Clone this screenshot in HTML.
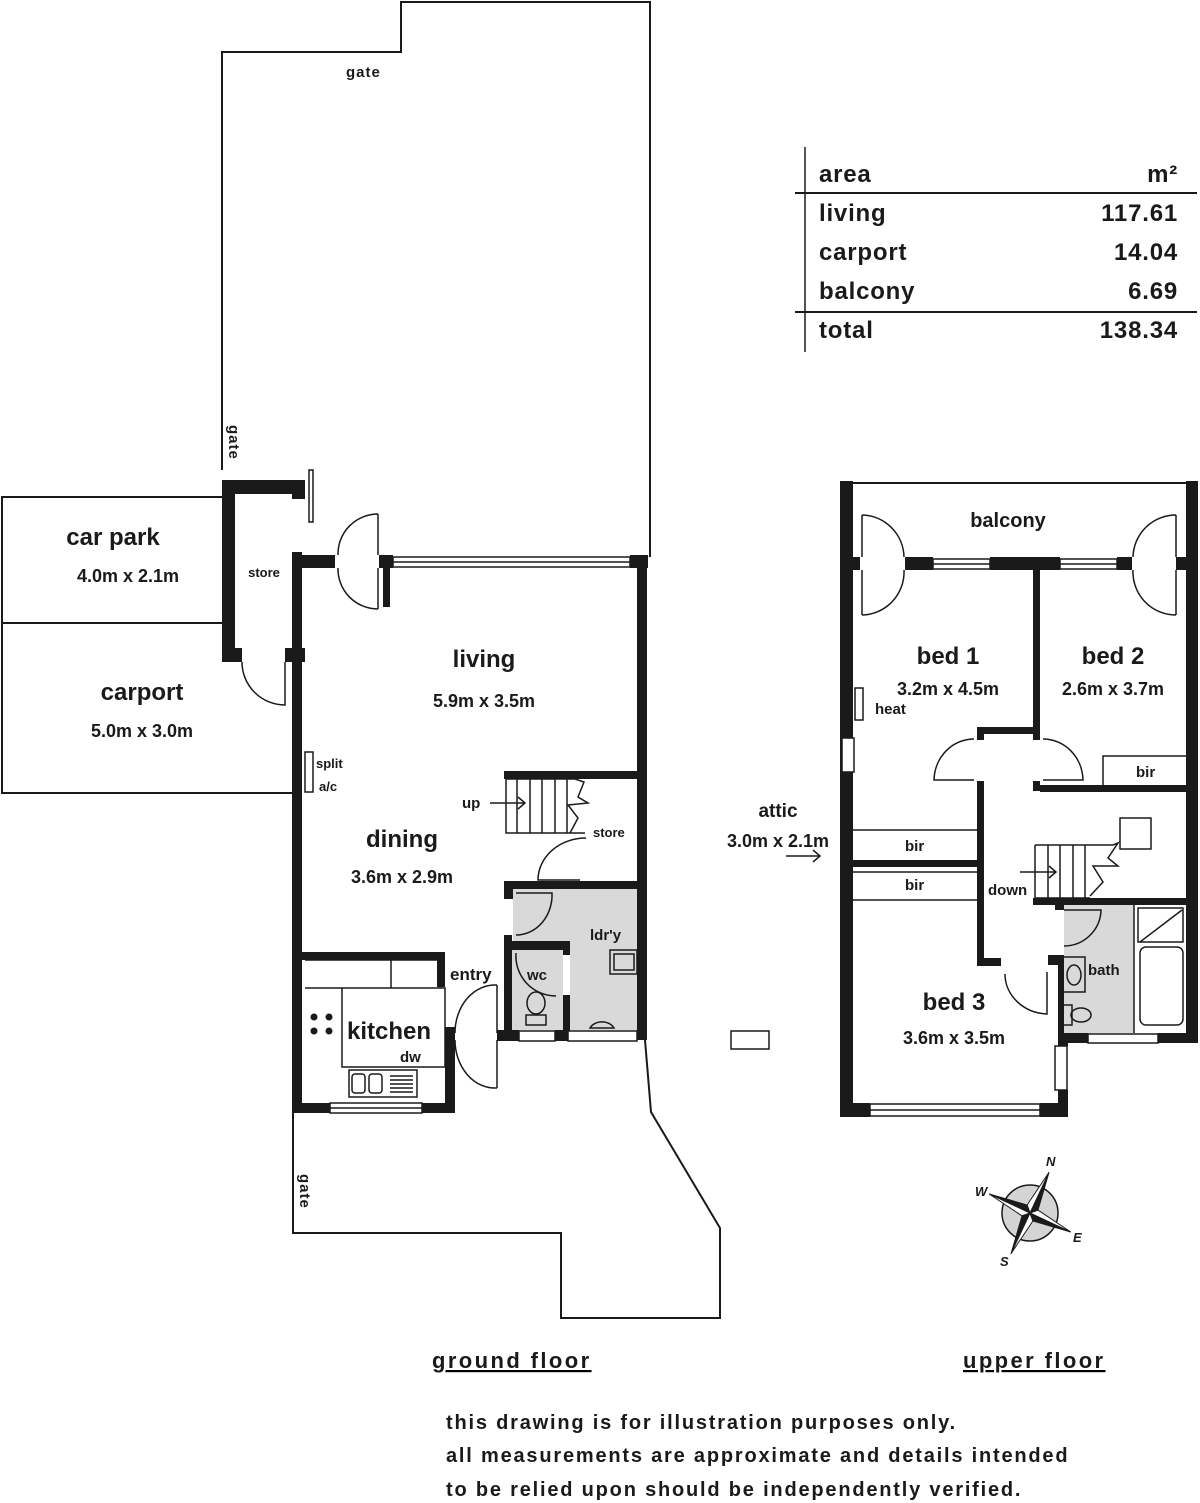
<!DOCTYPE html>
<html><head><meta charset="utf-8"><style>
body{margin:0;background:#fff}
svg{display:block}
text{font-family:"Liberation Sans",sans-serif;fill:#1a1a1a;font-weight:bold}
</style></head><body>
<svg width="1200" height="1503" viewBox="0 0 1200 1503" xmlns="http://www.w3.org/2000/svg">
<g fill="none" stroke="#1a1a1a" stroke-width="2">
<polyline points="222,470 222,52 401,52 401,2 650,2 650,557"/>
<polyline points="222,497 2,497 2,793 293,793"/>
<line x1="2" y1="623" x2="222" y2="623"/>
<polyline points="293,1112 293,1233 561,1233 561,1318 720,1318 720,1228 651,1112 645,1040"/>
<line x1="852" y1="483" x2="1188" y2="483"/>
</g>
<g fill="#1a1a1a">
<rect x="222" y="480" width="13" height="182"/>
<rect x="222" y="480" width="83" height="14"/>
<rect x="292" y="480" width="13" height="19"/>
<rect x="222" y="648" width="20" height="14"/>
<rect x="285" y="648" width="20" height="14"/>
<rect x="292" y="552" width="10" height="560"/>
<rect x="292" y="555" width="43" height="13"/>
<rect x="379" y="555" width="14" height="13"/>
<rect x="383" y="555" width="7" height="52"/>
<rect x="630" y="555" width="18" height="13"/>
<rect x="637" y="555" width="10" height="485"/>
<rect x="504" y="771" width="140" height="8"/>
<rect x="504" y="881" width="140" height="8"/>
<rect x="504" y="881" width="9" height="18"/>
<rect x="504" y="935" width="8" height="105"/>
<rect x="504" y="941" width="65" height="9"/>
<rect x="563" y="941" width="7" height="14"/>
<rect x="563" y="995" width="7" height="45"/>
<rect x="497" y="1030" width="22" height="11"/>
<rect x="555" y="1030" width="13" height="11"/>
<rect x="302" y="952" width="143" height="8"/>
<rect x="437" y="952" width="8" height="35"/>
<rect x="445" y="1027" width="10" height="85"/>
<rect x="292" y="1103" width="38" height="10"/>
<rect x="422" y="1103" width="33" height="10"/>
<rect x="840" y="481" width="13" height="636"/>
<rect x="1186" y="481" width="12" height="562"/>
<rect x="853" y="557" width="7" height="13"/>
<rect x="905" y="557" width="28" height="13"/>
<rect x="990" y="557" width="70" height="13"/>
<rect x="1117" y="557" width="15" height="13"/>
<rect x="1176" y="557" width="10" height="13"/>
<rect x="1033" y="570" width="7" height="170"/>
<rect x="977" y="727" width="63" height="7"/>
<rect x="977" y="727" width="7" height="13"/>
<rect x="977" y="781" width="7" height="183"/>
<rect x="977" y="958" width="24" height="8"/>
<rect x="1033" y="781" width="7" height="10"/>
<rect x="1040" y="785" width="146" height="7"/>
<rect x="1033" y="898" width="165" height="7"/>
<rect x="1055" y="898" width="9" height="12"/>
<rect x="1058" y="955" width="7" height="88"/>
<rect x="1048" y="955" width="10" height="10"/>
<rect x="1058" y="1033" width="30" height="10"/>
<rect x="1158" y="1033" width="40" height="10"/>
<rect x="1058" y="1040" width="10" height="6"/>
<rect x="1058" y="1090" width="10" height="27"/>
<rect x="840" y="1103" width="30" height="14"/>
<rect x="1040" y="1103" width="28" height="14"/>
<rect x="853" y="860" width="124" height="7"/>
</g>
<g fill="#d9d9d9">
<rect x="513" y="889" width="124" height="52"/>
<rect x="570" y="941" width="67" height="89"/>
<rect x="512" y="950" width="51" height="80"/>
<rect x="1064" y="905" width="70" height="128"/>
</g>
<g fill="none" stroke="#1a1a1a" stroke-width="1.5">
<rect x="393" y="557" width="237" height="10" fill="#fff"/><line x1="393" y1="562" x2="630" y2="562"/>
<rect x="330" y="1103" width="92" height="10" fill="#fff"/><line x1="330" y1="1108" x2="422" y2="1108"/>
<rect x="519" y="1031" width="36" height="10" fill="#fff"/>
<rect x="568" y="1031" width="69" height="10" fill="#fff"/>
<rect x="309" y="470" width="4" height="52"/>
<path d="M378,514 A40,40 0 0 0 338,555 M338,568 A40,40 0 0 0 378,609 M378,514 V555 M378,568 V609"/>
<path d="M242,662 A43,43 0 0 0 285,705 V662"/>
<path d="M497,985 A40,48 0 0 0 455,1033 M455,1040 A40,48 0 0 0 497,1088 M497,985 V1033 M497,1040 V1088"/>
<path d="M586,838 A48,42 0 0 0 538,880 H580"/>
<path d="M516,935 A36,40 0 0 0 552,893 H516"/>
<path d="M516,953 A40,40 0 0 0 556,996"/>
<rect x="305" y="752" width="8" height="40"/>
<path d="M506,779 V833 H585 M506,779 H575"/>
<path d="M517,779V833M530,779V833M542,779V833M555,779V833M567,779V833"/>
<path d="M575,779 L584,782 L578,797 L588,803 L568,805 L578,818 L570,833"/>
<path d="M490,803 H525 M518,797 L525,803 L518,809"/>
<path d="M305,960 H440 V988 H305 M391,960 V988 M342,988 H445 V1067 H342 Z"/>
<rect x="349" y="1070" width="68" height="27"/>
<rect x="352" y="1074" width="13" height="19" rx="3"/><rect x="369" y="1074" width="13" height="19" rx="3"/>
<path d="M390,1076H413M390,1080H413M390,1084H413M390,1088H413M390,1092H413"/>
<ellipse cx="536" cy="1003" rx="9" ry="11"/><rect x="526" y="1015" width="20" height="10"/>
<path d="M590,1028 A13,10 0 0 1 614,1028 Z"/>
<rect x="610" y="950" width="27" height="24"/><rect x="614" y="954" width="20" height="16"/>
<rect x="933" y="559" width="57" height="10" fill="#fff"/><line x1="933" y1="564" x2="990" y2="564"/>
<rect x="1060" y="559" width="57" height="10" fill="#fff"/><line x1="1060" y1="564" x2="1117" y2="564"/>
<rect x="842" y="738" width="12" height="34" fill="#fff"/>
<rect x="870" y="1104" width="170" height="12" fill="#fff"/><line x1="870" y1="1110" x2="1040" y2="1110"/>
<rect x="1055" y="1046" width="12" height="44" fill="#fff"/>
<rect x="1088" y="1034" width="70" height="9" fill="#fff"/>
<path d="M862,515 A43,43 0 0 1 904,557 M904,570 A43,43 0 0 1 862,615 M862,515 V557 M862,570 V615"/>
<path d="M1176,515 A43,43 0 0 0 1133,557 M1133,570 A43,43 0 0 0 1176,615 M1176,515 V557 M1176,570 V615"/>
<path d="M974,739 A40,42 0 0 0 934,780 H974 M1043,739 A40,42 0 0 1 1083,780 H1043"/>
<path d="M1005,974 A44,40 0 0 0 1047,1014 V972"/>
<path d="M1064,946 A37,37 0 0 0 1101,910 H1064"/>
<rect x="855" y="688" width="8" height="32"/>
<path d="M853,830 H977 M853,900 H977 M853,872 H977 M1103,785 V756 H1186"/>
<path d="M1035,845 V898 H1090 M1035,845 H1113"/>
<path d="M1048,845V898M1060,845V898M1073,845V898M1085,845V898"/>
<path d="M1113,845 L1118,843 L1108,858 L1118,866 L1093,866 L1103,882 L1090,896"/>
<path d="M1020,872 H1055 M1049,866 L1056,872 L1049,878"/>
<rect x="1120" y="818" width="31" height="31"/>
<path d="M1134,905 V1033"/>
<rect x="1138" y="908" width="45" height="34"/><path d="M1140,942 L1182,910"/>
<rect x="1140" y="947" width="43" height="78" rx="6"/>
<rect x="1063" y="957" width="22" height="35"/><ellipse cx="1074" cy="975" rx="7" ry="10"/>
<rect x="1063" y="1005" width="9" height="20"/><ellipse cx="1081" cy="1015" rx="10" ry="7"/>
<rect x="731" y="1031" width="38" height="18"/>
<path d="M786,856 H820 M813,850 L820,856 L813,862"/>
<path d="M805,147 V352"/>
</g>
<g stroke="#1a1a1a" stroke-width="2">
<line x1="795" y1="193" x2="1197" y2="193"/>
<line x1="795" y1="312" x2="1197" y2="312"/>
</g>
<g fill="#1a1a1a"><circle cx="314" cy="1017" r="3.5"/><circle cx="329" cy="1017" r="3.5"/><circle cx="314" cy="1031" r="3.5"/><circle cx="329" cy="1031" r="3.5"/></g>
<g transform="translate(1030,1213)">
<circle r="28" fill="#d4d4d4" stroke="#1a1a1a" stroke-width="1.5"/>
<g transform="rotate(25)" stroke="#1a1a1a" stroke-width="1">
<polygon points="0,-45 6,-6 0,0" fill="#1a1a1a"/><polygon points="0,-45 -6,-6 0,0" fill="#fff"/>
<polygon points="0,45 -6,6 0,0" fill="#1a1a1a"/><polygon points="0,45 6,6 0,0" fill="#fff"/>
<polygon points="45,0 6,6 0,0" fill="#1a1a1a"/><polygon points="45,0 6,-6 0,0" fill="#fff"/>
<polygon points="-45,0 -6,-6 0,0" fill="#1a1a1a"/><polygon points="-45,0 -6,6 0,0" fill="#fff"/>
</g></g>
<g font-style="italic" font-size="13">
<text x="1046" y="1166">N</text><text x="975" y="1196">W</text><text x="1073" y="1242">E</text><text x="1000" y="1266">S</text>
</g>
<g font-size="24" letter-spacing="0.8">
<text x="819" y="182">area</text><text x="1178" y="182" text-anchor="end">m²</text>
<text x="819" y="221">living</text><text x="1178" y="221" text-anchor="end">117.61</text>
<text x="819" y="260">carport</text><text x="1178" y="260" text-anchor="end">14.04</text>
<text x="819" y="299">balcony</text><text x="1178" y="299" text-anchor="end">6.69</text>
<text x="819" y="338">total</text><text x="1178" y="338" text-anchor="end">138.34</text>
</g>
<g font-size="24" text-anchor="middle">
<text x="113" y="545">car park</text><text x="142" y="700">carport</text>
<text x="484" y="667">living</text><text x="402" y="847">dining</text>
<text x="389" y="1039">kitchen</text>
<text x="1008" y="527" font-size="20">balcony</text>
<text x="948" y="664">bed 1</text><text x="1113" y="664">bed 2</text><text x="954" y="1010">bed 3</text>
<text x="778" y="817" font-size="19">attic</text>
</g>
<g font-size="18" text-anchor="middle">
<text x="128" y="582">4.0m x 2.1m</text><text x="142" y="737">5.0m x 3.0m</text>
<text x="484" y="707">5.9m x 3.5m</text><text x="402" y="883">3.6m x 2.9m</text>
<text x="948" y="695">3.2m x 4.5m</text><text x="1113" y="695">2.6m x 3.7m</text>
<text x="954" y="1044">3.6m x 3.5m</text><text x="778" y="847">3.0m x 2.1m</text>
</g>
<g font-size="15">
<text x="346" y="77" letter-spacing="1">gate</text>
<text x="264" y="577" text-anchor="middle" font-size="13">store</text>
<text x="316" y="768" font-size="13">split</text><text x="319" y="791" font-size="13">a/c</text>
<text x="462" y="808">up</text>
<text x="593" y="837" font-size="13">store</text>
<text x="590" y="940">ldr'y</text>
<text x="527" y="980">wc</text>
<text x="450" y="980" font-size="17">entry</text>
<text x="400" y="1062">dw</text>
<text x="875" y="714">heat</text>
<text x="905" y="851">bir</text><text x="905" y="890">bir</text><text x="1136" y="777">bir</text>
<text x="988" y="895">down</text>
<text x="1088" y="975">bath</text>
<text x="229" y="425" transform="rotate(90 229 425)" letter-spacing="1">gate</text>
<text x="300" y="1174" transform="rotate(90 300 1174)" letter-spacing="1">gate</text>
</g>
<g font-size="22" text-decoration="underline" letter-spacing="2.4">
<text x="432" y="1368">ground floor</text><text x="963" y="1368">upper floor</text>
</g>
<g font-size="20" letter-spacing="1.8">
<text x="446" y="1429">this drawing is for illustration purposes only.</text>
<text x="446" y="1462">all measurements are approximate and details intended</text>
<text x="446" y="1496">to be relied upon should be independently verified.</text>
</g>
</svg>
</body></html>
